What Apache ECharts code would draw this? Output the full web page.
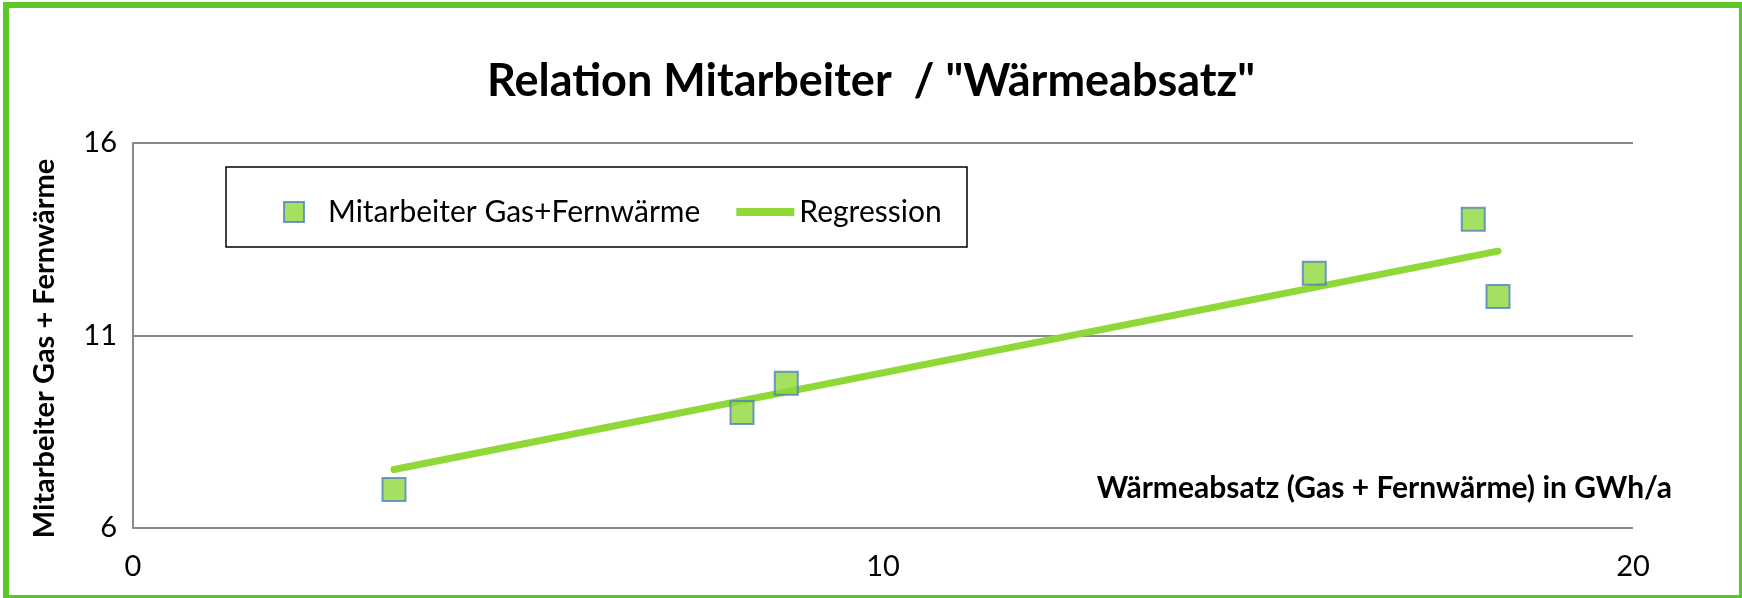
<!DOCTYPE html>
<html><head><meta charset="utf-8">
<script src="https://cdn.jsdelivr.net/npm/echarts@6/dist/echarts.min.js"></script>
<style>html,body{margin:0;padding:0;background:#fff}#c{width:1742px;height:598px}</style>
</head><body><div id="c"></div>
<script>
const waermeabsatz = [3.48, 8.12, 8.71, 15.75, 17.87, 18.2];
const mitarbeiter = [7.0, 9.0, 9.76, 12.62, 14.02, 12.01];
const regressionX = [3.48, 18.2];
const regressionY = [7.52, 13.19];
const xTicks = [0, 10, 20];
const yTicks = [6, 11, 16];

const F = 'Lato, "Open Sans", sans-serif';
const chart = echarts.init(document.getElementById('c'));
chart.setOption({
  animation: false,
  title: {
    text: 'Relation Mitarbeiter  / "Wärmeabsatz"',
    left: 'center', top: 54,
    textStyle: {fontFamily: F, fontSize: 45, fontWeight: 'bold', color: '#000'}
  },
  graphic: [{
    type: 'rect', silent: true, z: 100,
    shape: {x: 6, y: 5, width: 1736, height: 593},
    style: {fill: 'none', stroke: '#5bc925', lineWidth: 6}
  }, {
    type: 'rect', silent: true, z: 50,
    shape: {x: 226, y: 167, width: 741, height: 80},
    style: {fill: '#fff', stroke: '#000', lineWidth: 1.5}
  }],
  legend: {
    left: 278, top: 192, z: 60,
    itemGap: 36, itemWidth: 58, itemHeight: 20,
    symbolKeepAspect: true,
    textStyle: {fontFamily: F, fontSize: 30, color: '#000'},
    data: [
      {name: 'Mitarbeiter Gas+Fernwärme', icon: 'path://M0,0L10,0L10,10L0,10Z',
        itemStyle: {color: '#8fd838', borderColor: '#4f81bd', borderWidth: 2}},
      {name: 'Regression', icon: 'path://M0,0L50,0L50,7L0,7Z',
        itemStyle: {color: '#8fd838', borderWidth: 0}}
    ]
  },
  grid: {left: 133, right: 109, top: 143, bottom: 70},
  xAxis: {
    type: 'value', min: 0, max: 20, interval: 10,
    name: 'Wärmeabsatz (Gas + Fernwärme) in GWh/a',
    nameLocation: 'end', nameGap: 0,
    nameTextStyle: {fontFamily: F, fontSize: 30, fontWeight: 'bold', color: '#000', align: 'right', verticalAlign: 'bottom', padding: [0, -39, 25, 0]},
    axisLine: {show: false}, axisTick: {show: false},
    splitLine: {show: false},
    axisLabel: {fontFamily: F, fontSize: 29, color: '#000', margin: 24,
      formatter: v => xTicks.includes(v) ? String(v) : ''}
  },
  yAxis: {
    type: 'value', min: 6, max: 16, interval: 5,
    name: 'Mitarbeiter Gas + Fernwärme',
    nameLocation: 'middle', nameGap: 74, nameRotate: 90,
    nameTextStyle: {fontFamily: F, fontSize: 29, fontWeight: 'bold', color: '#000', padding: [0, 26, 0, 0]},
    axisLine: {show: true, lineStyle: {color: '#888', width: 2}},
    axisTick: {show: false},
    splitLine: {show: true, lineStyle: {color: '#888', width: 2}},
    axisLabel: {fontFamily: F, fontSize: 29, color: '#000', margin: 16, verticalAlign: 'middle',
      formatter: v => yTicks.includes(v) ? String(v) : ''}
  },
  series: [{
    name: 'Mitarbeiter Gas+Fernwärme', type: 'scatter', symbol: 'rect', symbolSize: 23, z: 5,
    itemStyle: {color: '#8fd838', borderColor: '#4f81bd', borderWidth: 2},
    data: waermeabsatz.map((x, i) => [x, mitarbeiter[i]])
  }, {
    name: 'Regression', type: 'line', showSymbol: false, symbol: 'none', z: 3,
    lineStyle: {color: '#8fd838', width: 7, cap: 'round'},
    itemStyle: {color: '#8fd838'},
    data: regressionX.map((x, i) => [x, regressionY[i]])
  }]
});
</script></body></html>
